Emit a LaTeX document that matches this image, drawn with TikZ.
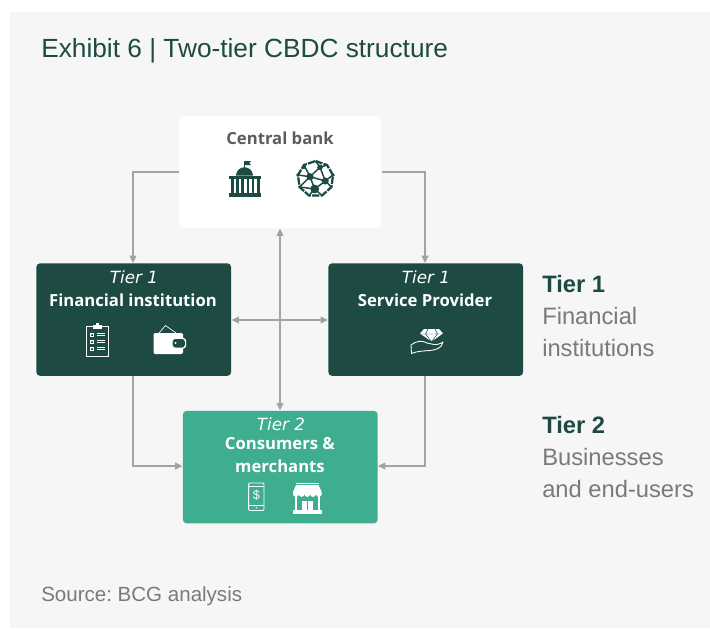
\documentclass[tikz,border=0pt]{standalone}
\usepackage{fontspec}
\setmainfont{Liberation Sans}
\newfontfamily\boxfont{Open Sans}
\newfontfamily\tierfont{DejaVu Sans}
\usetikzlibrary{arrows.meta}
\definecolor{bgc}{HTML}{F6F6F6}
\definecolor{dark}{HTML}{1D4B43}
\definecolor{teal}{HTML}{3FAD8F}
\definecolor{tgrey}{HTML}{5C5C5C}
\definecolor{rgrey}{HTML}{7A7A7A}
\definecolor{lgrey}{HTML}{A3A3A3}
\frenchspacing
\tikzset{
  x=0.75pt,y=-0.75pt,
  box/.style={rounded corners=3pt,minimum height=84.5pt,inner sep=0pt,anchor=north west},
  conn/.style={draw=lgrey,line width=1pt,-{Triangle[length=5.5pt,width=5pt]}},
  both/.style={draw=lgrey,line width=1pt,{Triangle[length=5.5pt,width=5pt]}-{Triangle[length=5.5pt,width=5pt]}},
  boxtext/.style={font=\boxfont\fontsize{12.5}{15}\selectfont\bfseries,text=white},
  tiertext/.style={font=\tierfont\fontsize{12.6}{15}\selectfont\itshape,text=white},
  side/.style={font=\fontsize{17.8}{24}\selectfont,anchor=west,text=rgrey,inner sep=0pt},
  sidehead/.style={font=\fontsize{17.8}{24}\selectfont\bfseries,anchor=west,text=dark,inner sep=0pt},
  wline/.style={draw=white,line width=.6pt,fill=none}
}
\begin{document}
\begin{tikzpicture}
\useasboundingbox (0,0) rectangle (710,628);
\fill[white] (0,0) rectangle (710,628);
\fill[bgc] (10,12) rectangle (710,628);
\node[anchor=west,inner sep=0pt,text=dark,font=\fontsize{19.7}{24}\selectfont] (title) at (41,51) {Exhibit 6 | Two-tier CBDC structure};
\node[box,fill=white,minimum width=151.5pt,minimum height=84pt] (cb) at (179,116) {};
\node[box,fill=dark,minimum width=146.2pt] (fi) at (36,263) {};
\node[box,fill=dark,minimum width=146.2pt] (sp) at (328,263) {};
\node[box,fill=teal,minimum width=146.2pt] (cm) at (182.5,410.5) {};
\node[font=\boxfont\fontsize{12.5}{15}\selectfont\bfseries,text=tgrey] (cbt) at (280,138) {Central bank};
\node[tiertext] (t1a) at (134,277) {Tier 1};
\node[boxtext] (fit) at (133,300) {Financial institution};
\node[tiertext] (t1b) at (426,277) {Tier 1};
\node[boxtext] (spt) at (425,300) {Service Provider};
\node[tiertext] (t2) at (281,424) {Tier 2};
\node[boxtext,align=center] (cmt) at (280,455) {Consumers \&\\[2.5pt]merchants};
\node[sidehead] (s1) at (542,284) {Tier 1};
\node[side] (s2) at (542,316) {Financial};
\node[side] (s3) at (542,348) {institutions};
\node[sidehead] (s4) at (542,425) {Tier 2};
\node[side] (s5) at (542,457) {Businesses};
\node[side] (s6) at (542,489) {and end-users};
\node[anchor=west,inner sep=0pt,text=rgrey,font=\fontsize{15.4}{20}\selectfont] (src) at (41,596) {Source: BCG analysis};
% connectors
\draw[conn] (cb.west |- 0,172) -| (fi.north -| 133,0);
\draw[conn] (cb.east |- 0,172) -| (sp.north -| 425,0);
\draw[both] (cb.south -| 280,0) -- (cm.north -| 280,0);
\draw[both] (fi.east |- 0,320) -- (sp.west |- 0,320);
\draw[conn] (fi.south -| 133,0) |- (cm.west |- 0,466);
\draw[conn] (sp.south -| 425,0) |- (cm.east |- 0,466);
% bank icon
\draw[dark,line width=.6pt] (244.5,169) -- (244.5,161);
\fill[dark] (244.7,161) -- (251,161) -- (249.3,163) -- (251,165) -- (244.7,165) -- cycle;
\fill[dark] (236,175.7) arc[start angle=180,end angle=360,radius=8.5] -- cycle;
\fill[dark] (228.5,175.7) rectangle (260.5,179);
\foreach \xx in {231,236.2,241.4,246.6,251.8,257}{\fill[dark] (\xx,179) rectangle ++(2.6,14.5);}
\fill[dark] (228.5,193.3) rectangle (260.5,197);
% network icon
\draw[dark,line width=1.7pt,dash pattern=on 5.5pt off .9pt]
  (315.5,161) -- (327,165) -- (333,175) -- (331.5,187) -- (322,195.5) -- (309,195.5) -- (299.5,187) -- (298,175) -- (304,165) -- cycle;
\draw[dark,line width=1.1pt]
  (310,176.7) -- (320,167.3) -- (327,165) (310,176.7) -- (325.3,181) -- (333,175)
  (310,176.7) -- (314.7,189) -- (325.3,181) (310,176.7) -- (298,175) (310,176.7) -- (304,165)
  (320,167.3) -- (325.3,181) (320,167.3) -- (315.5,161) (314.7,189) -- (299.5,187) (314.7,189) -- (322,195.5)
  (310,176.7) -- (299.5,187) (325.3,181) -- (331.5,187) (314.7,189) -- (309,195.5);
\fill[dark] (310,176.7) circle (3.6) (325.3,181) circle (3.5) (314.7,189) circle (4.4) (320,167.3) circle (2.8) (304,167) circle (2) (333,175) circle (1.8) (298,175) circle (1.8);
% clipboard icon
\draw[wline] (86,326.5) rectangle (108.5,356.5);
\fill[white] (93,325) rectangle (102,328.5);
\fill[white] (95.8,323) rectangle (99.2,326);
\foreach \yy in {334.5,341.5,348.5}{
  \draw[wline,line width=.5pt] (90,\yy-1.6) rectangle ++(3.4,3.4);
  \draw[wline,line width=.5pt] (92,\yy) -- (91.2,\yy-.5);
  \draw[wline,line width=.6pt] (97,\yy-1.2) -- (105,\yy-1.2) (97,\yy+1) -- (105,\yy+1);
}
% wallet icon
\draw[wline,line width=.5pt] (159,333) -- (165.5,325.5) -- (176,333);
\fill[white,rounded corners=1pt] (153.5,333) rectangle (183,354);
\fill[white,rounded corners=2pt] (171.5,338) rectangle (186,348.5);
\fill[dark,rounded corners=2pt] (172.7,339) rectangle (184.8,347.5);
\fill[white] (175.5,343) circle (1.1);
% diamond hand icon
\fill[white] (424,329) -- (439,329) -- (443,333.5) -- (431.5,341.5) -- (420,333.5) -- cycle;
\draw[dark,line width=.35pt] (419.5,334) -- (443.5,334) (428,329) -- (425.5,334) -- (431.5,341.5) -- (437.5,334) -- (435,329);
\draw[white,line width=.65pt,line join=round] (411.5,353.5) -- (411,345) .. controls (416,341) and (422,340) .. (427,343) -- (434,344.5) .. controls (437,345) and (441,343.5) .. (443,342) .. controls (442,348) and (436,350) .. (430,350.5) .. controls (424,351) and (417,351) .. (411.5,353.5) -- cycle;
% phone icon
\draw[white,line width=.7pt,rounded corners=.8pt] (248.6,483) rectangle (264,510.5);
\draw[white,line width=.6pt] (248.6,486) -- (264,486) (248.6,505) -- (264,505);
\fill[white] (256.3,507.8) circle (.8);
\node[inner sep=0pt,text=white,font=\fontsize{9.5}{10}\selectfont] (dollar) at (256.3,495.5) {\$};
% store icon
\draw[white,line width=.7pt] (296,483.3) -- (318.5,483.3);
\fill[white] (296,485) -- (318.5,485) -- (321.7,492) -- (321.7,494.5) -- (293,494.5) -- (293,492) -- cycle;
\foreach \xx in {295.9,301.6,307.3,313,318.8}{\fill[white] (\xx,494) circle[radius=2.9];}
\draw[white,line width=.9pt] (296,496) -- (296,511) (319,496) -- (319,511);
\fill[white] (293,510) rectangle (321.7,513.5);
\fill[white] (301.7,500.7) rectangle (306.8,510);
\fill[white] (307.8,500.7) rectangle (312.9,510);
\end{tikzpicture}
\end{document}
